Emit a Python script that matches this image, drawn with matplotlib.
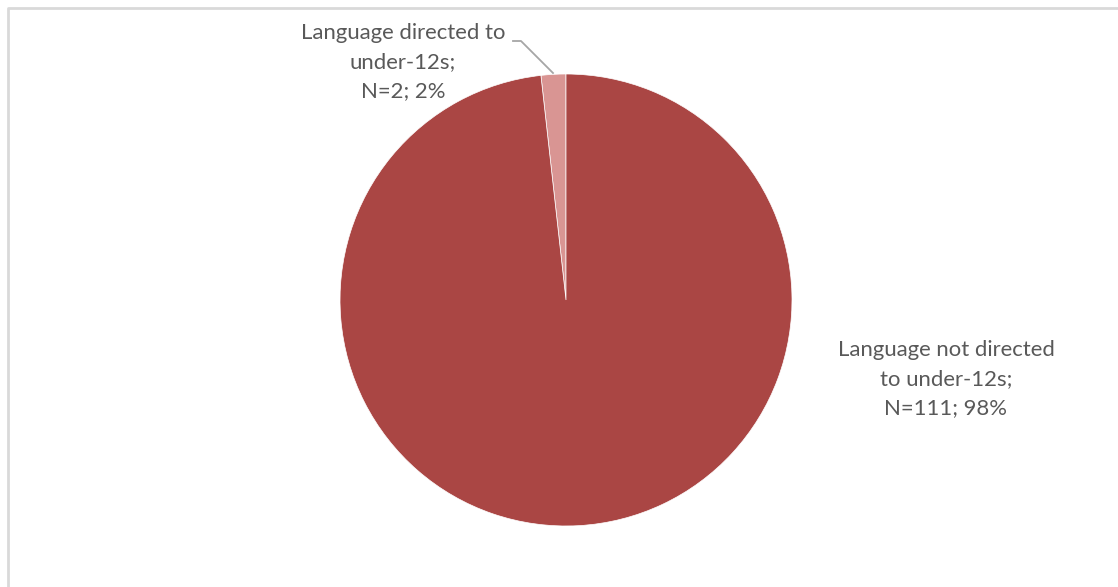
import matplotlib.pyplot as plt

# share of language directed / not directed to under-12s
labels = ['Language directed to\nunder-12s;\nN=2; 2%',
          'Language not directed\nto under-12s;\nN=111; 98%']
counts = [2, 111]
colors = ['#d99593', '#aa4644']

W, H = 1118, 587
cx, cy, r = 566, 300, 226

fig = plt.figure(figsize=(W / 100, H / 100), dpi=100)

# light grey chart border
frame = fig.add_axes([0, 0, 1, 1])
frame.set_xlim(0, W)
frame.set_ylim(H, 0)
frame.axis('off')
frame.plot([7.5, 7.5, W + 5], [H + 5, 7.5, 7.5], color='#d9d9d9', lw=2)

ax = fig.add_axes([(cx - r) / W, (H - cy - r) / H, 2 * r / W, 2 * r / H])
ax.pie(counts, colors=colors, startangle=90, counterclock=True, radius=1,
       wedgeprops=dict(edgecolor='white', linewidth=0.5))
ax.set_xlim(-1, 1)
ax.set_ylim(-1, 1)
ax.axis('off')


def to_data(px, py):
    return (px - cx) / r, (cy - py) / r


txt = dict(fontsize=15.9, color='#595959', family='Lato', ha='center',
           va='center', linespacing=1.55)
ax.text(*to_data(403, 62), labels[0], **txt)
ax.text(*to_data(946, 379), labels[1], **txt)

# leader line for the small slice
p = [to_data(513, 41), to_data(521, 41), to_data(553, 73)]
ax.plot([q[0] for q in p], [q[1] for q in p], color='#a6a6a6', lw=1.3,
        clip_on=False)

fig.savefig('out.png', dpi=100)
